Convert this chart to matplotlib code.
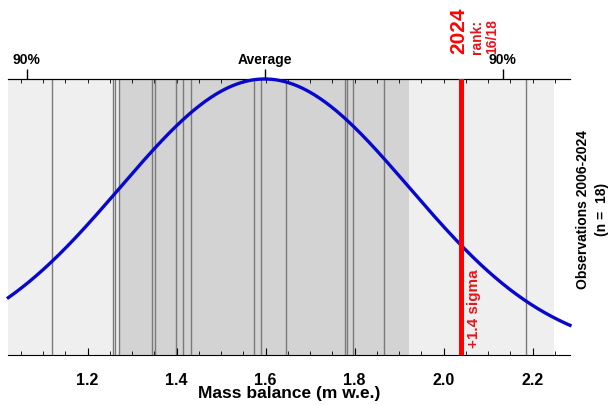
import matplotlib
matplotlib.use("Agg")
import matplotlib.pyplot as plt
import numpy as np

plt.rcParams["font.family"] = ["Liberation Sans", "DejaVu Sans"]
plt.rcParams["font.weight"] = "bold"

OBS = [1.121, 1.258, 1.262, 1.271, 1.344, 1.352, 1.398, 1.415, 1.433,
       1.575, 1.590, 1.646, 1.779, 1.782, 1.797, 1.867, 2.039, 2.185]
YEAR_VAL = 2.039
MEAN = 1.598
SIGMA = 0.325
XLIM = (1.022, 2.284)
XTICKS = [1.2, 1.4, 1.6, 1.8, 2.0, 2.2]
TOP_LABELS = ["90%", "Average", "90%"]
TOP_Z = [-1.645, 0.0, 1.645]

fig = plt.figure(figsize=(6.11, 4.06), dpi=100)
ax = fig.add_axes([0.0136, 0.123, 0.9193, 0.680])

ax.axvspan(MEAN - 2 * SIGMA, MEAN + 2 * SIGMA, color="#efefef", lw=0, zorder=0)
ax.axvspan(MEAN - SIGMA, MEAN + SIGMA, color="#d3d3d3", lw=0, zorder=0)

for v in OBS:
    if v == YEAR_VAL:
        continue
    ax.axvline(v, color="#7a7a7a", lw=1.0, zorder=1)

x = np.linspace(XLIM[0], XLIM[1], 400)
y = np.exp(-0.5 * ((x - MEAN) / SIGMA) ** 2)
ax.plot(x, y, color="#0808cc", lw=2.4, zorder=3, clip_on=False)

ax.axvline(YEAR_VAL, color="#ff0000", lw=3.6, zorder=4)

ax.set_xlim(*XLIM)
ax.set_ylim(0, 1.0)
ax.set_yticks([])
for s in ["left", "right"]:
    ax.spines[s].set_visible(False)

ax.set_xticks(XTICKS)
ax.set_xticklabels([f"{t:.1f}" for t in XTICKS], fontsize=11.5, fontweight="bold")
ax.set_xticks(np.arange(1.05, 2.30, 0.05), minor=True)
ax.tick_params(axis="x", which="major", direction="in", length=5, width=0.8, pad=12)
ax.tick_params(axis="x", which="minor", direction="in", length=3, width=0.6)
ax.set_xlabel("Mass balance (m w.e.)", fontsize=12.5, fontweight="bold", labelpad=-1)

top = ax.secondary_xaxis("top")
top.set_xticks([MEAN + z * SIGMA for z in TOP_Z])
top.set_xticklabels(TOP_LABELS, fontsize=10, fontweight="bold")
top.set_xticks(np.arange(1.05, 2.30, 0.05), minor=True)
top.tick_params(which="major", direction="out", length=7, width=1.0, pad=2)
top.tick_params(which="minor", direction="in", length=3, width=0.6)

ax.text(YEAR_VAL - 0.006, 1.095, "2024", rotation=90, color="#ff0000",
        fontsize=15, fontweight="bold", ha="center", va="bottom",
        transform=ax.get_xaxis_transform())
ax.text(YEAR_VAL + 0.037, 1.095, "rank:", rotation=90, color="#e8141c",
        fontsize=10, fontweight="bold", ha="center", va="bottom",
        transform=ax.get_xaxis_transform())
ax.text(YEAR_VAL + 0.071, 1.095, "16/18", rotation=90, color="#e8141c",
        fontsize=10, fontweight="bold", ha="center", va="bottom",
        transform=ax.get_xaxis_transform())

ax.text(YEAR_VAL + 0.029, 0.03, "+1.4 sigma", rotation=90, color="#e8141c",
        fontsize=11, fontweight="bold", ha="center", va="bottom",
        transform=ax.get_xaxis_transform())

fig.text(0.970, 0.485, "Observations 2006-2024\n(n =  18)", rotation=90,
         fontsize=10, fontweight="bold", ha="center", va="center",
         multialignment="center", linespacing=1.45)

fig.savefig("out.png", dpi=100)
